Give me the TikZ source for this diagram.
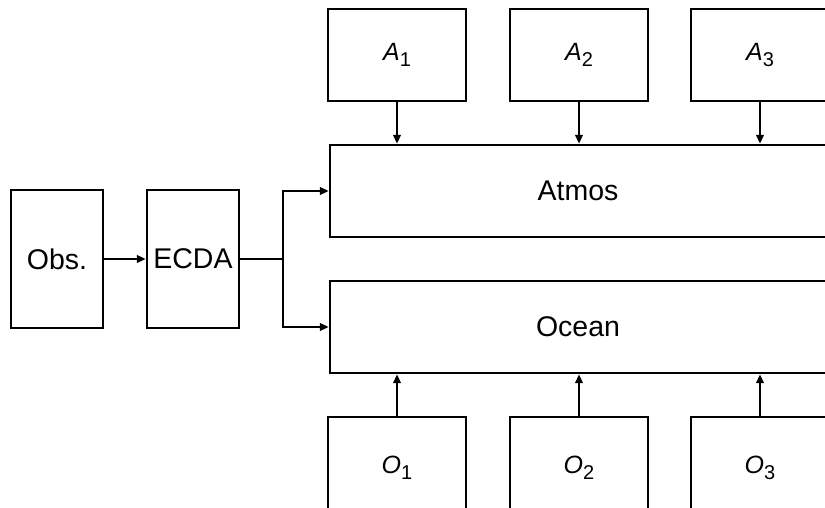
\documentclass[tikz,border=0pt]{standalone}
\usepackage{fontspec}
\setmainfont{Liberation Sans}
\usetikzlibrary{arrows.meta}

% italic letter with an upright, lowered index
\newcommand{\idxlabel}[2]{{\fontsize{25}{25}\selectfont\itshape #1}\raisebox{-6pt}{\fontsize{20}{20}\selectfont #2}}

\tikzset{
  blk/.style={draw, line width=2.4pt, rectangle, inner sep=0pt,
              font=\fontsize{28.5}{28.5}\selectfont},
  conn/.style={line width=2.4pt, -{Triangle[length=9pt,width=7.5pt]}},
  wire/.style={line width=2.4pt}
}

\begin{document}
\begin{tikzpicture}[x=1pt, y=-1pt]
  \useasboundingbox (0,0) rectangle (825,508);
  \clip (0,0) rectangle (825,508);

  % data sources and assimilation
  \node[blk, minimum width=92pt, minimum height=138pt] (obs)  at (57,259)  {Obs.};
  \node[blk, minimum width=92pt, minimum height=138pt] (ecda) at (193,259) {ECDA};

  % coupled model components
  \node[blk, minimum width=496pt, minimum height=92pt] (atmos) at (578,191) {Atmos};
  \node[blk, minimum width=496pt, minimum height=92pt] (ocean) at (578,327) {Ocean};

  % atmosphere ensemble members
  \node[blk, minimum width=138pt, minimum height=92pt] (a1) at (397,55) {\idxlabel{A}{1}};
  \node[blk, minimum width=138pt, minimum height=92pt] (a2) at (579,55) {\idxlabel{A}{2}};
  \node[blk, minimum width=138pt, minimum height=92pt] (a3) at (760,55) {\idxlabel{A}{3}};

  % ocean ensemble members
  \node[blk, minimum width=138pt, minimum height=102pt] (o1) at (397,468) {\idxlabel{O}{1}};
  \node[blk, minimum width=138pt, minimum height=102pt] (o2) at (579,468) {\idxlabel{O}{2}};
  \node[blk, minimum width=138pt, minimum height=102pt] (o3) at (760,468) {\idxlabel{O}{3}};

  % connectors
  \coordinate (split) at (283,259);
  \draw[conn] (obs.east) -- (ecda.west);
  \draw[wire] (ecda.east) -- (split);
  \draw[conn] (split) |- (atmos.west);
  \draw[conn] (split) |- (ocean.west);

  \foreach \m in {a1,a2,a3}
    \draw[conn] (\m.south) -- (\m.south |- atmos.north);
  \foreach \m in {o1,o2,o3}
    \draw[conn] (\m.north) -- (\m.north |- ocean.south);
\end{tikzpicture}
\end{document}
